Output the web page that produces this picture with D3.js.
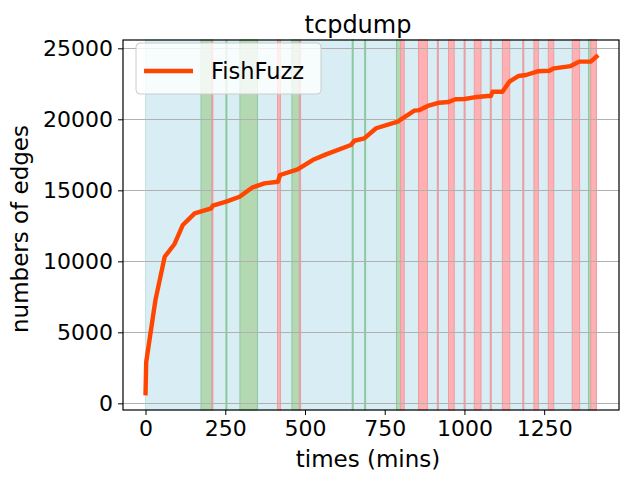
<!DOCTYPE html>
<html><head><meta charset="utf-8">
<script src="https://cdn.jsdelivr.net/npm/d3@7"></script>
<style>body{margin:0;background:#fff}svg{display:block}text{font-family:"DejaVu Sans",sans-serif;fill:#000}</style>
</head><body><svg id="c" width="629" height="481"></svg>
<script>
const title = "tcpdump";
const seriesName = "FishFuzz";
const xTicks = [0, 250, 500, 750, 1000, 1250];
const yTicks = [0, 5000, 10000, 15000, 20000, 25000];
const times = [0, 2, 31, 60, 91, 117, 154, 206, 211, 253, 295, 336, 373, 415, 422, 477, 524, 566, 644, 655, 686, 723, 791, 801, 843, 859, 885, 921, 950, 972, 1000, 1031, 1073, 1083, 1088, 1119, 1141, 1170, 1193, 1230, 1266, 1281, 1333, 1360, 1396, 1414];
const edges = [714, 2900, 7270, 10320, 11220, 12560, 13380, 13730, 13920, 14200, 14550, 15210, 15490, 15600, 16080, 16480, 17130, 17530, 18190, 18490, 18660, 19370, 19830, 20000, 20610, 20650, 20940, 21170, 21220, 21410, 21430, 21550, 21640, 21640, 21940, 21940, 22650, 23050, 23120, 23380, 23420, 23590, 23750, 24060, 24060, 24420];
const bgSpan = [0, 1414];
const greenStart = [174, 252, 296, 459, 648, 687, 787, 1389];
const greenEnd   = [207, 254, 351, 482, 651, 690, 800, 1396];
const redStart = [208, 414, 483, 800, 856, 915, 950, 999, 1031, 1081, 1119, 1183, 1218, 1263, 1338, 1396];
const redEnd   = [211, 423, 486, 811, 884, 918, 968, 1002, 1052, 1084, 1142, 1186, 1232, 1280, 1361, 1414];

const svg = d3.select("#c");
const L = 123, R = 619, T = 40, B = 410;
const x = d3.scaleLinear().domain([-70.7, 1484.7]).range([L, R]);
const y = d3.scaleLinear().domain([-470, 25585]).range([B, T]);

// spans
svg.append("rect").attr("x", x(bgSpan[0])).attr("y", T).attr("width", x(bgSpan[1]) - x(bgSpan[0])).attr("height", B - T)
  .attr("fill", "#d8edf4").attr("stroke", "#c2e3dc").attr("stroke-width", 1);
const g = svg.append("g");
greenStart.forEach((s, i) => {
  g.append("rect").attr("x", x(s)).attr("y", T).attr("width", Math.max(1, x(greenEnd[i]) - x(s))).attr("height", B - T)
    .attr("fill", "#b3d8b2").attr("stroke", "#8cc9a0").attr("stroke-width", 1);
});
redStart.forEach((s, i) => {
  g.append("rect").attr("x", x(s)).attr("y", T).attr("width", Math.max(1, x(redEnd[i]) - x(s))).attr("height", B - T)
    .attr("fill", "#feb0b2").attr("stroke", "#eb9ea4").attr("stroke-width", 1);
});

// grid
svg.append("g").selectAll("line").data(yTicks).join("line")
  .attr("x1", L).attr("x2", R).attr("y1", d => Math.round(y(d)) + 0.5).attr("y2", d => Math.round(y(d)) + 0.5)
  .attr("stroke", "#b0b0b0").attr("stroke-width", 1);

// line
svg.append("path").datum(times.map((t, i) => [t, edges[i]]))
  .attr("d", d3.line().x(d => x(d[0])).y(d => y(d[1])))
  .attr("fill", "none").attr("stroke", "#ff4500").attr("stroke-width", 4.4).attr("stroke-linejoin", "round").attr("stroke-linecap", "square");

// axes
const fs = "22px";
const xa = svg.append("g").attr("transform", `translate(0,${B})`)
  .call(d3.axisBottom(x).tickValues(xTicks).tickSize(5).tickPadding(5).tickFormat(d3.format("d")));
const ya = svg.append("g").attr("transform", `translate(${L},0)`)
  .call(d3.axisLeft(y).tickValues(yTicks).tickSize(5).tickPadding(5).tickFormat(d3.format("d")));
[xa, ya].forEach(a => {
  a.select(".domain").remove();
  a.selectAll("text").style("font-size", fs).style("font-family", "DejaVu Sans").attr("fill", "#000");
  a.selectAll("line").attr("stroke", "#000").attr("stroke-width", 1);
});
svg.append("rect").attr("x", L).attr("y", T).attr("width", R - L).attr("height", B - T)
  .attr("fill", "none").attr("stroke", "#000").attr("stroke-width", 1.2);

// labels
svg.append("text").attr("x", 358).attr("y", 33).attr("text-anchor", "middle").style("font-size", "24px").text(title);
svg.append("text").attr("x", 368).attr("y", 467).attr("text-anchor", "middle").style("font-size", "23px").text("times (mins)");
svg.append("text").attr("transform", `translate(28,${(T + B) / 2 + 4}) rotate(-90)`).attr("text-anchor", "middle").style("font-size", "23px").text("numbers of edges");

// legend
const lg = svg.append("g");
lg.append("rect").attr("x", 136).attr("y", 43).attr("width", 185).attr("height", 51).attr("rx", 4)
  .attr("fill", "#fff").attr("fill-opacity", 0.8).attr("stroke", "#cccccc").attr("stroke-width", 1);
lg.append("line").attr("x1", 144).attr("x2", 193).attr("y1", 71).attr("y2", 71).attr("stroke", "#ff4500").attr("stroke-width", 4.4);
lg.append("text").attr("x", 211).attr("y", 79).style("font-size", "22.5px").text(seriesName);
</script></body></html>
